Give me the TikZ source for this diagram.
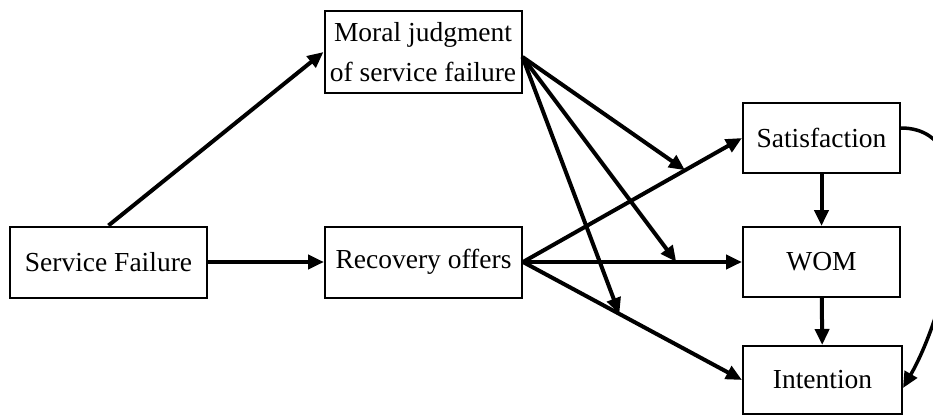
\documentclass[tikz,border=0pt]{standalone}
\usepackage{fontspec}
\setmainfont{Liberation Serif}
\usetikzlibrary{arrows.meta,positioning}

\begin{document}
\begin{tikzpicture}[x=1pt, y=-1pt,
  construct/.style={draw, line width=2pt, inner sep=0pt, align=center,
                    font=\fontsize{27.5}{40}\selectfont},
  wide/.style={construct, minimum width=197pt, minimum height=71pt},
  outcome/.style={construct, minimum width=157pt, minimum height=70pt},
  effect/.style={-{Triangle[length=16pt,width=14pt]}, line width=4pt},
]
  \useasboundingbox (0,0) rectangle (933,417);

  % Constructs.
  \node[wide, minimum height=82pt] (moral) at (423,52) {Moral judgment\\of service failure};
  \node[wide] (failure) at (108.5,262) {Service Failure};
  \node[wide] (recovery) at (423.5,262) {Recovery offers};
  \node[outcome] (sat) at (821.5,138) {Satisfaction};
  \node[outcome] (wom) at (821.5,262) {WOM};
  \node[outcome, minimum width=159pt, minimum height=68pt] (int) at (822.5,380) {Intention};

  % Main paths.
  \draw[effect] (failure.north) -- (moral.west);
  \draw[effect] (failure) -- (recovery);
  \draw[effect] (recovery.east) -- coordinate[pos=0.74] (on-sat) (sat.west);
  \draw[effect] (recovery.east) -- coordinate[pos=0.70] (on-wom) (wom.west);
  \draw[effect] (recovery.east) -- coordinate[pos=0.44] (on-int) (int.west);
  \draw[effect] (sat) -- (wom);
  \draw[effect] (wom) -- (int);
  \draw[effect, line width=3.5pt] ([yshift=10pt]sat.east) to[out=0, in=60, looseness=0.9] ([yshift=-8pt]int.east);

  % Moderation by moral judgment.
  \draw[effect] ([yshift=-5pt]moral.east) -- (on-sat);
  \draw[effect] ([yshift=-5pt]moral.east) -- (on-wom);
  \draw[effect] ([yshift=-5pt]moral.east) -- (on-int);
\end{tikzpicture}
\end{document}
